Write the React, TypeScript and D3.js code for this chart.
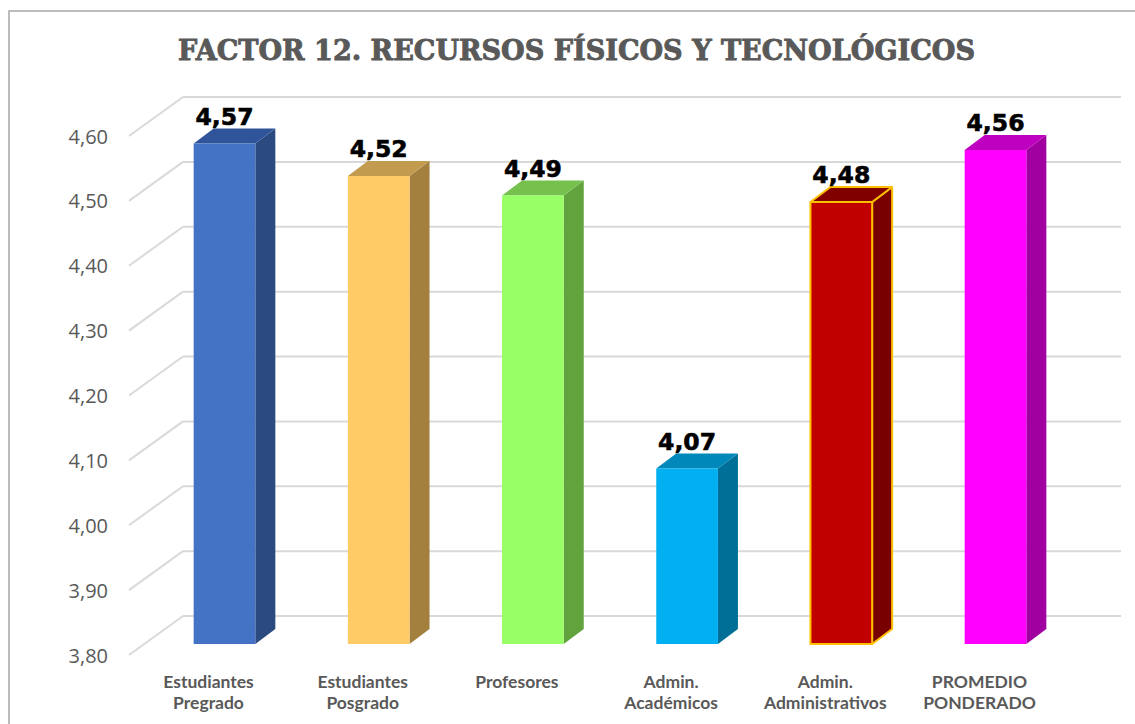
import React from "react";
import * as d3 from "d3";

const categories: string[][] = [
  ["Estudiantes", "Pregrado"],
  ["Estudiantes", "Posgrado"],
  ["Profesores"],
  ["Admin.", "Académicos"],
  ["Admin.", "Administrativos"],
  ["PROMEDIO", "PONDERADO"],
];
const values: number[] = [4.57, 4.52, 4.49, 4.07, 4.48, 4.56];
const yTicks: number[] = [3.8, 3.9, 4.0, 4.1, 4.2, 4.3, 4.4, 4.5, 4.6];
const frontColors = ["#4472C4", "#FECB66", "#99FF66", "#00B0F0", "#C00000", "#FF00FF"];
const topColors = ["#30549A", "#C39B4E", "#76C14E", "#0088BA", "#800000", "#C000C0"];
const sideColors = ["#2A4A80", "#A4803E", "#62A33D", "#006F98", "#780000", "#A000A0"];
const strokeColors = [null, null, null, null, "#FFC000", null];
const title = "FACTOR 12. RECURSOS FÍSICOS Y TECNOLÓGICOS";

const W = 1135;
const H = 724;

export default function App() {
  const fmt = (v: number) => d3.format(".2f")(v).replace(".", ",");
  const yFront = d3.scaleLinear().domain([3.8, 4.6]).range([655, 136]);
  const yBar = d3.scaleLinear().domain([3.8, 4.6]).range([644, 124]);
  const wallDx = 54;
  const wallDy = -39;
  const frontX = 129;
  const backRight = 1121;
  const x = d3
    .scaleBand<number>()
    .domain(d3.range(values.length))
    .range([147.4, 1072.6])
    .paddingInner(0.6)
    .paddingOuter(0.3);
  const bw = x.bandwidth();
  const bdx = 20;
  const bdy = -15;
  const grey = "#595959";

  return (
    <svg
      width={W}
      height={H}
      style={{ position: "absolute", left: 0, top: 0, background: "#fff" }}
    >
      <rect x={9} y={11} width={1140} height={730} fill="#fff" stroke="#A6A6A6" strokeWidth={1.5} />
      <text
        x={178}
        y={60}
        textLength={797}
        lengthAdjust="spacingAndGlyphs"
        fontFamily="'DejaVu Serif', serif"
        fontWeight="bold"
        fontSize={27}
        fill={grey}
        stroke={grey}
        strokeWidth={0.9}
      >
        {title}
      </text>
      {/* gridlines */}
      {yTicks.map((t) => (
        <g key={t}>
          <line
            x1={frontX}
            y1={yFront(t)}
            x2={frontX + wallDx}
            y2={yFront(t) + wallDy}
            stroke="#D9D9D9"
            strokeWidth={2}
          />
          <line
            x1={frontX + wallDx}
            y1={yFront(t) + wallDy}
            x2={backRight}
            y2={yFront(t) + wallDy}
            stroke="#D9D9D9"
            strokeWidth={2}
          />
          <text
            x={108}
            y={yFront(t)}
            textAnchor="end"
            dominantBaseline="central"
            fontFamily="'Open Sans', sans-serif"
            fontSize={20}
            fill={grey}
          >
            {fmt(t)}
          </text>
        </g>
      ))}
      {/* bars */}
      {values.map((v, i) => {
        const x0 = x(i) as number;
        const x1 = x0 + bw;
        const yt = yBar(v);
        const yb = yBar(3.8);
        const st = strokeColors[i];
        const sp = st ? { stroke: st, strokeWidth: 2, strokeLinejoin: "round" as const } : {};
        const top = [
          [x0, yt],
          [x0 + bdx, yt + bdy],
          [x1 + bdx, yt + bdy],
          [x1, yt],
        ];
        const side = [
          [x1, yt],
          [x1 + bdx, yt + bdy],
          [x1 + bdx, yb + bdy],
          [x1, yb],
        ];
        const pts = (p: number[][]) => p.map((q) => q.join(",")).join(" ");
        return (
          <g key={i}>
            <polygon points={pts(side)} fill={sideColors[i]} {...sp} />
            <polygon points={pts(top)} fill={topColors[i]} {...sp} />
            <rect x={x0} y={yt} width={bw} height={yb - yt} fill={frontColors[i]} {...sp} />
            <text
              x={x0 + bw / 2}
              y={yt - 19}
              textAnchor="middle"
              fontFamily="'DejaVu Sans', sans-serif"
              fontWeight="bold"
              fontSize={23.5}
              fill="#000"
              stroke="#000"
              strokeWidth={0.6}
            >
              {fmt(v)}
            </text>
          </g>
        );
      })}
      {/* category labels */}
      {categories.map((lines, i) => {
        const cx = (x(i) as number) + bw / 2 - 16;
        return (
          <text
            key={i}
            x={cx}
            textAnchor="middle"
            fontFamily="Lato, 'Open Sans', sans-serif"
            fontWeight="bold"
            fontSize={17.5}
            fill={grey}
          >
            {lines.map((l, j) => (
              <tspan key={j} x={cx} y={688 + j * 21}>
                {l}
              </tspan>
            ))}
          </text>
        );
      })}
    </svg>
  );
}
